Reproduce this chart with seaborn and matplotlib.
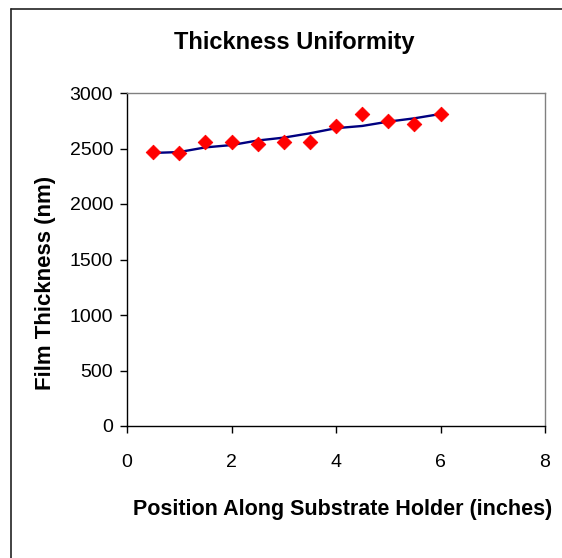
import matplotlib
matplotlib.use("Agg")
import matplotlib.pyplot as plt
from matplotlib.lines import Line2D
import seaborn as sns
import pandas as pd

# Measured film thickness along the substrate holder
position_in = [0.5, 1.0, 1.5, 2.0, 2.5, 3.0, 3.5, 4.0, 4.5, 5.0, 5.5, 6.0]
thickness_nm = [2470, 2457, 2561, 2555, 2537, 2561, 2561, 2700, 2811, 2748, 2725, 2811]
# Smoothed thickness profile
fit_nm = [2460, 2468, 2510, 2531, 2572, 2598, 2637, 2683, 2703, 2742, 2772, 2811]

x_ticks = [0, 2, 4, 6, 8]
y_ticks = [0, 500, 1000, 1500, 2000, 2500, 3000]

title = "Thickness Uniformity"
x_label = "Position Along Substrate Holder (inches)"
y_label = "Film Thickness (nm)"

df = pd.DataFrame({"position": position_in, "thickness": thickness_nm, "fit": fit_nm})

sns.set_style("white")
plt.rcParams["font.family"] = ["Liberation Sans", "DejaVu Sans"]
plt.rcParams["text.color"] = "black"

W, H = 562, 558
fig = plt.figure(figsize=(W / 100, H / 100), dpi=100)
fig.patch.set_facecolor("white")

# Plot area in pixel coordinates
left, right, top, bottom = 127, 545, 93, 426
ax = fig.add_axes([left / W, 1 - bottom / H, (right - left) / W, (bottom - top) / H])

sns.lineplot(data=df, x="position", y="fit", ax=ax, color="#000080", linewidth=1.7)
sns.scatterplot(data=df, x="position", y="thickness", ax=ax, marker="D", s=55,
                color="#FF0000", edgecolor="#FF0000", linewidth=0.6, zorder=3)

ax.set_xlim(0, 8)
ax.set_ylim(0, 3000)
ax.set_xticks(x_ticks)
ax.set_yticks(y_ticks)
ax.set_xticklabels([str(v) for v in x_ticks])
ax.set_yticklabels([str(v) for v in y_ticks])
ax.set_xlabel("")
ax.set_ylabel("")
ax.tick_params(axis="both", direction="out", length=5, width=1, color="black",
               labelsize=14, labelcolor="black", pad=5, bottom=True, left=True)
ax.tick_params(axis="x", pad=15)
for side in ("left", "bottom"):
    ax.spines[side].set_color("black")
    ax.spines[side].set_linewidth(1.0)
for side in ("top", "right"):
    ax.spines[side].set_visible(True)
    ax.spines[side].set_color("#808080")
    ax.spines[side].set_linewidth(1.0)
ax.grid(False)

fig.text(294 / W, 1 - 43 / H, title, ha="center", va="center",
         fontsize=17, fontweight="bold", color="black")
fig.text(343 / W, 1 - 509 / H, x_label, ha="center", va="center",
         fontsize=15.5, fontweight="bold", color="black")
fig.text(46 / W, 1 - 283 / H, y_label, ha="center", va="center",
         fontsize=16, fontweight="bold", rotation=90, color="black")

# Chart-area border along the top and left edges
fig.add_artist(Line2D([10.5 / W, 10.5 / W], [0, 1 - 8.5 / H], transform=fig.transFigure,
                      color="#222222", linewidth=1.2))
fig.add_artist(Line2D([10.5 / W, 1], [1 - 8.5 / H, 1 - 8.5 / H], transform=fig.transFigure,
                      color="#222222", linewidth=1.2))

fig.savefig("out.png", dpi=100, facecolor="white")
